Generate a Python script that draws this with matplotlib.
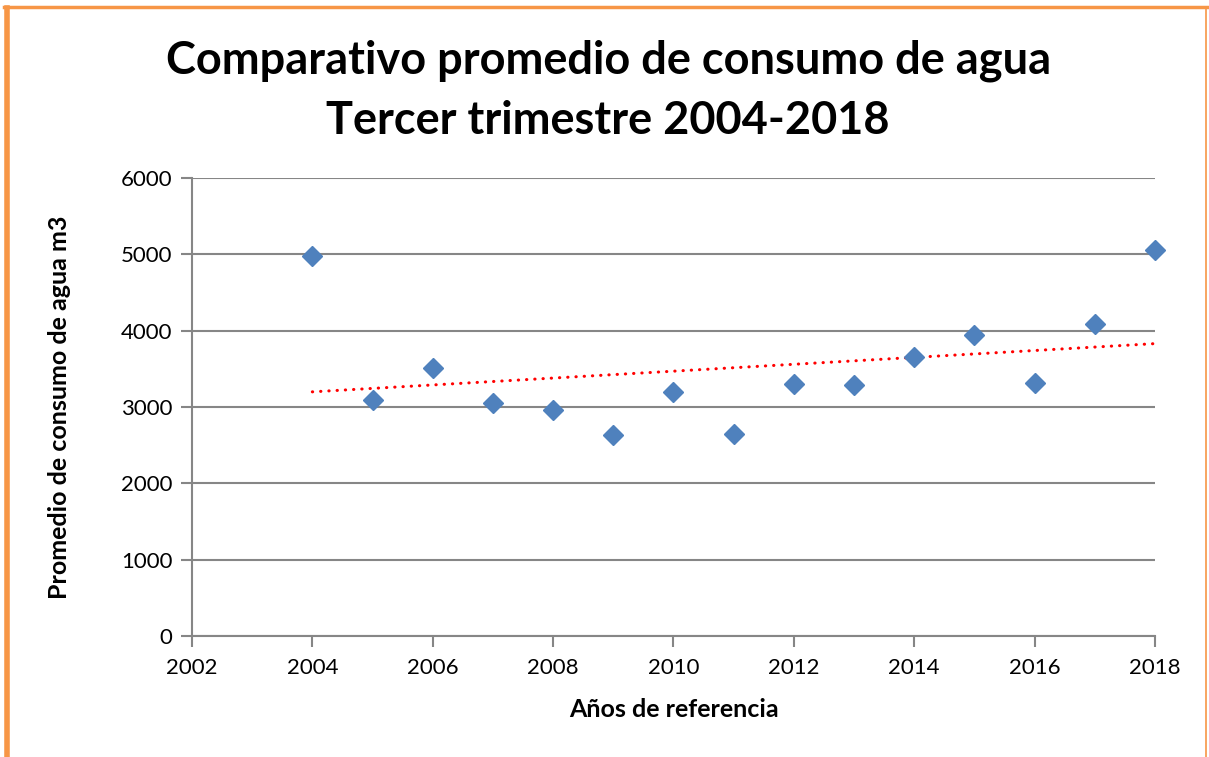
import numpy as np
import matplotlib.pyplot as plt
from matplotlib.lines import Line2D

# Data
years = [2004, 2005, 2006, 2007, 2008, 2009, 2010, 2011,
         2012, 2013, 2014, 2015, 2016, 2017, 2018]
consumo = [4974, 3092, 3514, 3056, 2957, 2634, 3192, 2643,
           3305, 3288, 3658, 3944, 3314, 4089, 5056]
x_ticks = [2002, 2004, 2006, 2008, 2010, 2012, 2014, 2016, 2018]
y_ticks = [0, 1000, 2000, 3000, 4000, 5000, 6000]

plt.rcParams['font.family'] = ['Lato', 'DejaVu Sans']

fig = plt.figure(figsize=(12.09, 7.57), dpi=100)
ax = fig.add_axes([0.1588, 0.1598, 0.7965, 0.6051])

# linear trend line (Excel style)
coef = np.polyfit(years, consumo, 1)
trend_x = np.array([years[0], years[-1]])
ax.plot(trend_x, np.polyval(coef, trend_x), color='#FF0000', lw=2.2,
        linestyle=(0, (0.1, 2.6)), dash_capstyle='round', zorder=3)

ax.plot(years, consumo, linestyle='none', marker='D', markersize=10.5,
        color='#4F81BD', markeredgecolor='#4F81BD', zorder=4, clip_on=False)

ax.set_xlim(2002, 2018)
ax.set_ylim(0, 6000)
ax.set_xticks(x_ticks)
ax.set_yticks(y_ticks)
ax.tick_params(axis='both', labelsize=16, color='#868686', length=8, width=1.5)
ax.tick_params(axis='x', pad=8)
ax.tick_params(axis='y', pad=6)
ax.yaxis.grid(True, color='#868686', lw=1.5)
ax.set_axisbelow(True)
for s in ['top', 'right']:
    ax.spines[s].set_visible(False)
for s in ['left', 'bottom']:
    ax.spines[s].set_color('#868686')
    ax.spines[s].set_linewidth(1.5)

ax.set_xlabel('Años de referencia', fontsize=18, fontweight='bold', labelpad=14)
ax.set_ylabel('Promedio de consumo de agua m3', fontsize=18, fontweight='bold', labelpad=36)

fig.text(0.503, 0.88, 'Comparativo promedio de consumo de agua\nTercer trimestre 2004-2018',
         ha='center', va='center', fontsize=32.5, fontweight='bold', linespacing=1.55)

# orange chart frame
orange = '#F79646'
fig.add_artist(Line2D([0.0054, 0.0054], [0, 0.99], transform=fig.transFigure, color=orange, lw=4))
fig.add_artist(Line2D([0.0035, 0.998], [0.9905, 0.9905], transform=fig.transFigure, color=orange, lw=2.5))
fig.add_artist(Line2D([0.9975, 0.9975], [0, 0.99], transform=fig.transFigure, color=orange, lw=1.2))

fig.savefig('out.png', dpi=100)
